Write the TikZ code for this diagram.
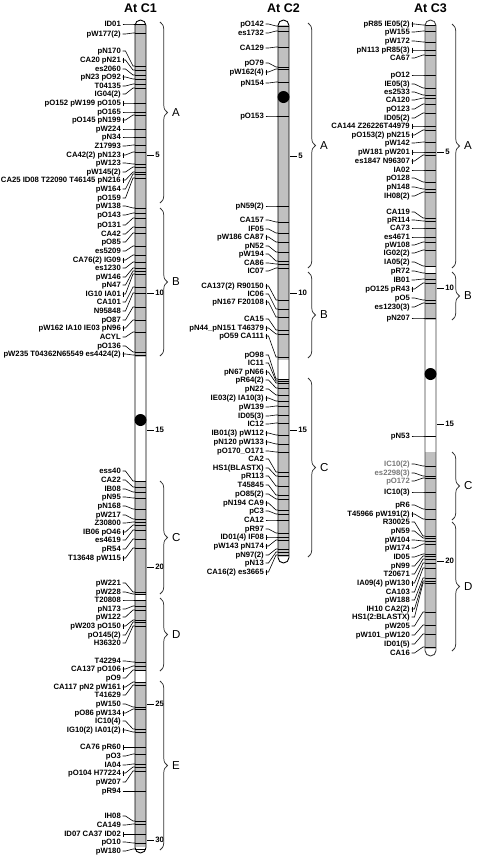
\documentclass[tikz,border=0pt]{standalone}
\usepackage{fontspec}
\setmainfont{Liberation Sans}
\usetikzlibrary{decorations.pathreplacing,calc}
\definecolor{chromfill}{RGB}{192,192,192}
\definecolor{lightlbl}{RGB}{120,120,120}
\begin{document}
\begin{tikzpicture}[x=1pt,y=-1pt,
  lbl/.style={font=\bfseries\fontsize{7.7}{8}\selectfont, inner sep=0pt, anchor=east, text height=5.7pt, text depth=0pt},
  conn/.style={line width=0.6pt},
  band/.style={line width=0.8pt},
  outline/.style={line width=0.9pt, rounded corners=5.5pt},
  tickln/.style={line width=0.7pt},
  ticklbl/.style={font=\bfseries\fontsize{7.8}{8}\selectfont, inner sep=1pt, anchor=west},
  bracestyle/.style={decorate, decoration={brace, amplitude=7.5pt}, line width=0.75pt, black!80},
  bracelbl/.style={font=\fontsize{11.5}{12}\selectfont, inner sep=0pt, anchor=west},
  title/.style={font=\bfseries\fontsize{12.5}{13}\selectfont, inner sep=0pt}
]
\useasboundingbox (0,0) rectangle (478,857);

% titles
\node[title] (t1) at (140.5,8) {At C1};
\node[title] (t2) at (283.5,8) {At C2};
\node[title] (t3) at (430.5,8) {At C3};

% ---------- chromosome bodies ----------
\begin{scope}
\clip[rounded corners=5.5pt] (135,20) rectangle (146,853);
\fill[white] (135,20) rectangle (146,853);
\fill[chromfill] (135,25) rectangle (146,357);
\fill[chromfill] (135,481) rectangle (146,594);
\fill[chromfill] (135,600) rectangle (146,670);
\fill[chromfill] (135,682) rectangle (146,847);
\end{scope}
\begin{scope}
\clip[rounded corners=5.5pt] (278,20) rectangle (289,563);
\fill[white] (278,20) rectangle (289,563);
\fill[chromfill] (278,25) rectangle (289,360);
\fill[chromfill] (278,379) rectangle (289,557);
\end{scope}
\begin{scope}
\clip[rounded corners=5.5pt] (425,20) rectangle (436,656);
\fill[white] (425,20) rectangle (436,656);
\fill[chromfill] (425,25) rectangle (436,267);
\fill[chromfill] (425,274) rectangle (436,320);
\fill[chromfill] (425,452) rectangle (436,649);
\end{scope}

% ---------- column 1 markers ----------
\foreach \ly/\by/\txt/\m [count=\i] in {
24/24/ID01/0, 34/33/pW177(2)/0, 51/66/pN170/0, 60/70/CA20 pN21/1,
69/75/es2060/0, 77/79/pN23 pO92/1, 86/84/T04135/0, 94/88/IG04(2)/0,
103/103/pO152 pW199 pO105/1, 112/112/pO165/0, 120/115/pO145 pN199/1,
129/129/pW224/0, 137/137/pN34/0, 146/145/Z17993/0, 155/152/CA42(2) pN123/1,
163/164/pW123/0, 172/167/pW145(2)/0, 180/172/CA25 ID08 T22090 T46145 pN216/1,
189/174/pW164/0, 198/178/pO159/0, 206/208/pW138/0, 215/213/pO143/0,
225/218/pO131/0, 234/227/CA42/0, 242/233/pO85/0, 251/246/es5209/0,
260/255/CA76(2) IG09/1, 268/262/es1230/0, 277/268/pW146/0, 285/271/pN47/0,
294/274/IG10 IA01/1, 302/287/CA101/0, 311/293/N95848/0, 320/307/pO87/0,
328/320/pW162 IA10 IE03 pN96/1, 337/332/ACYL/0, 346/352/pO136/0,
354/355/pW235 T04362N65549 es4424(2)/1,
471/481/ess40/0, 480/487/CA22/0, 489/492/IB08/0, 497/498/pN95/0,
506/509/pN168/0, 515/519/pW217/0, 523/522/Z30800/0, 532/525/IB06 pO46/1,
540/530/es4619/0, 549/539/pR54/0, 558/548/T13648 pW115/1,
583/592/pW221/0, 592/594/pW228/0, 600/600/T20808/0, 609/606/pN173/0,
617/610/pW122/0, 626/620/pW203 pO150/1, 635/622/pO145(2)/0, 643/626/H36320/0,
661/662/T42294/0, 669/666/CA137 pO106/1, 678/670/pO9/0, 687/682/CA117 pN2 pW161/1,
695/685/T41629/0, 704/707/pW150/0, 713/709/pO86 pW134/1, 721/729/IC10(4)/0,
730/732/IG10(2) IA01(2)/1, 747/747/CA76 pR60/1, 756/754/pO3/0, 765/764/IA04/0,
773/767/pO104 H77224/1, 782/771/pW207/0, 791/791/pR94/0, 816/821/IH08/0,
825/824/CA149/0, 834/834/ID07 CA37 ID02/1, 842/843/pO10/0, 851/849/pW180/0}
{
  \node[lbl] (a\i) at (121,\ly) {\txt};
  \coordinate (ab\i) at (135,\by);
  \draw[conn] (a\i.east) ++(1.5,0) -- ++(3,0) -- ($(ab\i)+(-2,0)$) -- (ab\i);
  \ifnum\m=1 \draw[conn] ($(a\i.east)+(2.5,-2.5)$) -- ++(0,5); \fi
  \draw[band] (ab\i) -- ++(11,0);
}

% ---------- column 2 markers ----------
\foreach \ly/\by/\txt/\m [count=\i] in {
24/26/pO142/0, 33/31/es1732/0, 48/47/CA129/0, 63/67/pO79/0, 72/69/pW162(4)/1,
83/82/pN154/0, 116/116/pO153/0, 206/206/pN59(2)/0, 220/222/CA157/0,
229/233/IF05/0, 237/242/pW186 CA87/1, 246/252/pN52/0, 254/261/pW194/0,
263/264/CA86/0, 271/268/IC07/0, 286/300/CA137(2) R90150/1, 294/309/IC06/0,
302/317/pN167 F20108/1, 319/330/CA15/0, 328/334/pN44\_pN151 T46379/1,
336/357/pO59 CA111/1, 355/379/pO98/0, 363/381/IC11/0, 372/383/pN67 pN66/1,
380/388/pR64(2)/0, 389/395/pN22/0, 398/401/IE03(2) IA10(3)/1, 407/406/pW139/0,
416/415/ID05(3)/0, 424/423/IC12/0, 433/435/IB01(3) pW112/1, 442/444/pN120 pW133/1,
451/452/pO170\_O171/0, 459/472/CA2/0, 468/476/HS1(BLASTX)/0, 476/486/pR113/0,
485/495/T45845/0, 494/499/pO85(2)/0, 503/510/pN194 CA9/1, 511/514/pC3/0,
520/520/CA12/0, 529/533/pR97/0, 537/537/ID01(4) IF08/1, 546/540/pW143 pN174/1,
555/549/pN97(2)/0, 563/552/pN13/0, 572/555/CA16(2) es3665/1}
{
  \node[lbl] (b\i) at (264,\ly) {\txt};
  \coordinate (bb\i) at (278,\by);
  \draw[conn] (b\i.east) ++(1.5,0) -- ++(3,0) -- ($(bb\i)+(-2,0)$) -- (bb\i);
  \ifnum\m=1 \draw[conn] ($(b\i.east)+(2.5,-2.5)$) -- ++(0,5); \fi
  \draw[band] (bb\i) -- ++(11,0);
}

% ---------- column 3 markers ----------
\foreach \ly/\by/\txt/\m [count=\i] in {
24/25/pR85 IE05(2)/1, 32/31/pW155/0, 41/42/pW172/0, 50/50/pN113 pR85(3)/1,
58/55/CA67/0, 75/75/pO12/0, 84/88/IE05(3)/0, 92/95/es2533/0, 100/98/CA120/0,
109/104/pO123/0, 118/113/ID05(2)/0, 126/126/CA144 Z26226T44979/1,
135/130/pO153(2) pN215/1, 143/142/pW142/0, 152/152/pW181 pW201/1,
161/155/es1847 N96307/1, 170/170/IA02/0, 178/182/pO128/0, 187/189/pN148/0,
196/192/IH08(2)/0, 212/218/CA119/0, 220/221/pR114/0, 228/228/CA73/0,
237/237/es4671/0, 245/242/pW108/0, 253/250/IG02(2)/0, 262/266/IA05(2)/0,
271/273/pR72/0, 280/279/IB01/0, 289/283/pO125 pR43/1, 298/300/pO5/0,
307/303/es1230(3)/0, 318/318/pN207/0, 436/436/pN53/0,
464/466/IC10(2)/2, 473/476/es2298(3)/2, 481/478/pO172/2, 492/492/IC10(3)/0,
505/509/pR6/0, 514/519/T45966 pW191(2)/1, 522/536/R30025/0, 531/538/pN59/0,
540/541/pW104/0, 548/544/pW174/0, 557/554/ID05/0, 566/556/pN99/0,
574/559/T20671/0, 583/563/IA09(4) pW130/1, 592/568/CA103/0, 600/578/pW188/0,
609/581/IH10 CA2(2)/1, 617/583/HS1(2:BLASTX)/0, 626/612/pW205/0,
635/625/pW101\_pW120/0, 644/634/ID01(5)/0, 653/647/CA16/0}
{
  \ifnum\m=2 \def\tcol{lightlbl}\else\def\tcol{black}\fi
  \node[lbl, text=\tcol] (c\i) at (410,\ly) {\txt};
  \coordinate (cb\i) at (425,\by);
  \draw[conn] (c\i.east) ++(1.5,0) -- ++(3,0) -- ($(cb\i)+(-2,0)$) -- (cb\i);
  \ifnum\m=1 \draw[conn] ($(c\i.east)+(2.5,-2.5)$) -- ++(0,5); \fi
  \draw[band] (cb\i) -- ++(11,0);
}

% ---------- outlines and centromeres ----------
\draw[outline] (135,20) rectangle (146,853);
\draw[outline] (278,20) rectangle (289,563);
\draw[outline, black!75] (425,20) rectangle (436,656);
\fill (140.5,420) circle (6pt);
\fill (283.5,97) circle (6pt);
\fill (430.5,374) circle (6pt);

% ---------- scale ticks ----------
\foreach \yy/\lab [count=\i] in {155/5, 293/10, 430/15, 567/20, 704/25, 840/30}
  \draw[tickln] (147,\yy) -- (154,\yy) node[ticklbl] (ta\i) {\lab};
\foreach \yy/\lab [count=\i] in {156/5, 293/10, 430/15}
  \draw[tickln] (290,\yy) -- (297,\yy) node[ticklbl] (tb\i) {\lab};
\foreach \yy/\lab [count=\i] in {152/5, 288/10, 424/15, 561/20}
  \draw[tickln] (437,\yy) -- (444,\yy) node[ticklbl] (tc\i) {\lab};

% ---------- braces ----------
\foreach \ya/\yb/\lab in {22/203/A, 208/356/B, 481/594/C, 598/671/D, 681/850/E} {
  \draw[bracestyle] (160,\ya) -- (160,\yb);
  \node[bracelbl] (bra\lab) at (172,{(\ya+\yb)/2}) {\lab};
}
\foreach \ya/\yb/\lab in {23/268/A, 272/358/B, 378/557/C} {
  \draw[bracestyle] (308,\ya) -- (308,\yb);
  \node[bracelbl] (brb\lab) at (320,{(\ya+\yb)/2}) {\lab};
}
\foreach \ya/\yb/\lab in {24/268/A, 272/320/B, 452/520/C, 522/651/D} {
  \draw[bracestyle] (452,\ya) -- (452,\yb);
  \node[bracelbl] (brc\lab) at (464,{(\ya+\yb)/2}) {\lab};
}
\end{tikzpicture}
\end{document}
